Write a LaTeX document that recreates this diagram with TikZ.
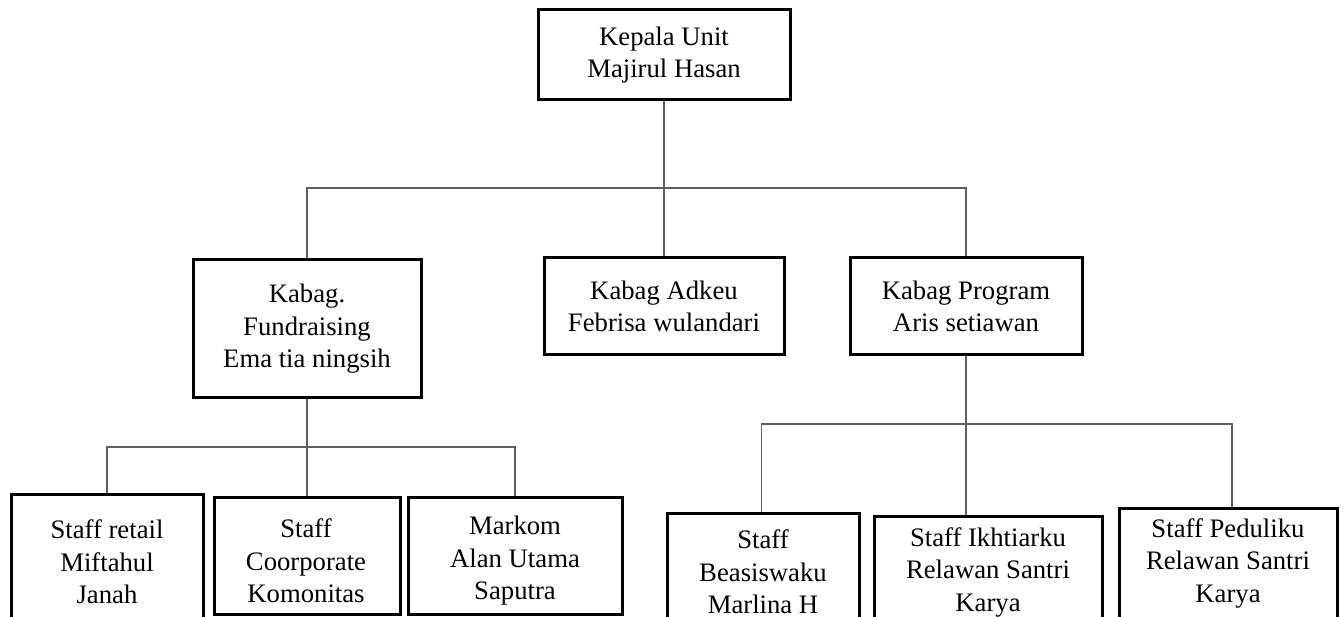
\documentclass[tikz,border=0pt]{standalone}
\usepackage{fontspec}
\setmainfont{Liberation Serif}
\definecolor{connc}{RGB}{95,95,95}
\begin{document}
\begin{tikzpicture}[x=1pt,y=-1pt,
  box/.style={draw=black,line width=3pt,rectangle,inner sep=0pt,align=center,
    font=\fontsize{26.7}{32.5}\selectfont},
  lbl/.style={inner sep=0pt,align=center,font=\fontsize{26.7}{32.5}\selectfont},
  conn/.style={draw=connc,line width=1.5pt}]
\useasboundingbox (0,0) rectangle (1344,617);
\clip (0,0) rectangle (1344,617);
\fill[white] (0,0) rectangle (1344,617);
% level 0
\node[box,minimum width=252,minimum height=90] (top) at (664,55) {Kepala Unit\\Majirul Hasan};
% level 1
\node[box,minimum width=228,minimum height=138] (fund) at (307,329) {Kabag.\\Fundraising\\Ema tia ningsih};
\node[box,minimum width=240,minimum height=97] (adk) at (664,306.5) {Kabag Adkeu\\Febrisa wulandari};
\node[box,minimum width=232,minimum height=97] (prog) at (966,306.5) {Kabag Program\\Aris setiawan};
% level 2 left
\node[box,minimum width=192,minimum height=146] (ret) at (107,567) {};
\node[lbl] (rett) at (107,562) {Staff retail\\Miftahul\\Janah};
\node[box,minimum width=186,minimum height=117] (coo) at (307,555.5) {};
\node[lbl] (coot) at (306,561) {Staff\\Coorporate\\Komonitas};
\node[box,minimum width=214,minimum height=117] (mar) at (515,555.5) {};
\node[lbl] (mart) at (515,561) {Markom\\Alan Utama\\Saputra};
% level 2 right
\node[box,minimum width=192,minimum height=127] (bea) at (763,576.5) {};
\node[lbl] (beat) at (763,572) {Staff\\Beasiswaku\\Marlina H};
\node[box,minimum width=228,minimum height=124] (ikh) at (988,578) {};
\node[lbl] (ikht) at (988,572) {Staff Ikhtiarku\\Relawan Santri\\Karya};
\node[box,minimum width=218,minimum height=132] (ped) at (1228,574) {};
\node[lbl] (pedt) at (1228,563) {Staff Peduliku\\Relawan Santri\\Karya};
% bar coordinates
\coordinate (barT) at (664,188);
\coordinate (barL) at (307,447);
\coordinate (barR) at (966,424);
% connectors
\draw[conn] (top.south) -- (adk.north);
\draw[conn] (fund.north) |- (barT) -| (prog.north);
\draw[conn] (fund.south) -- (coo.north);
\draw[conn] (ret.north) |- (barL) -| (mar.north);
\draw[conn] (prog.south) -- (prog.south |- ikh.north);
\draw[conn] ([xshift=-1.5pt]bea.north) |- (barR) -| ([xshift=4pt]ped.north);
\end{tikzpicture}
\end{document}
